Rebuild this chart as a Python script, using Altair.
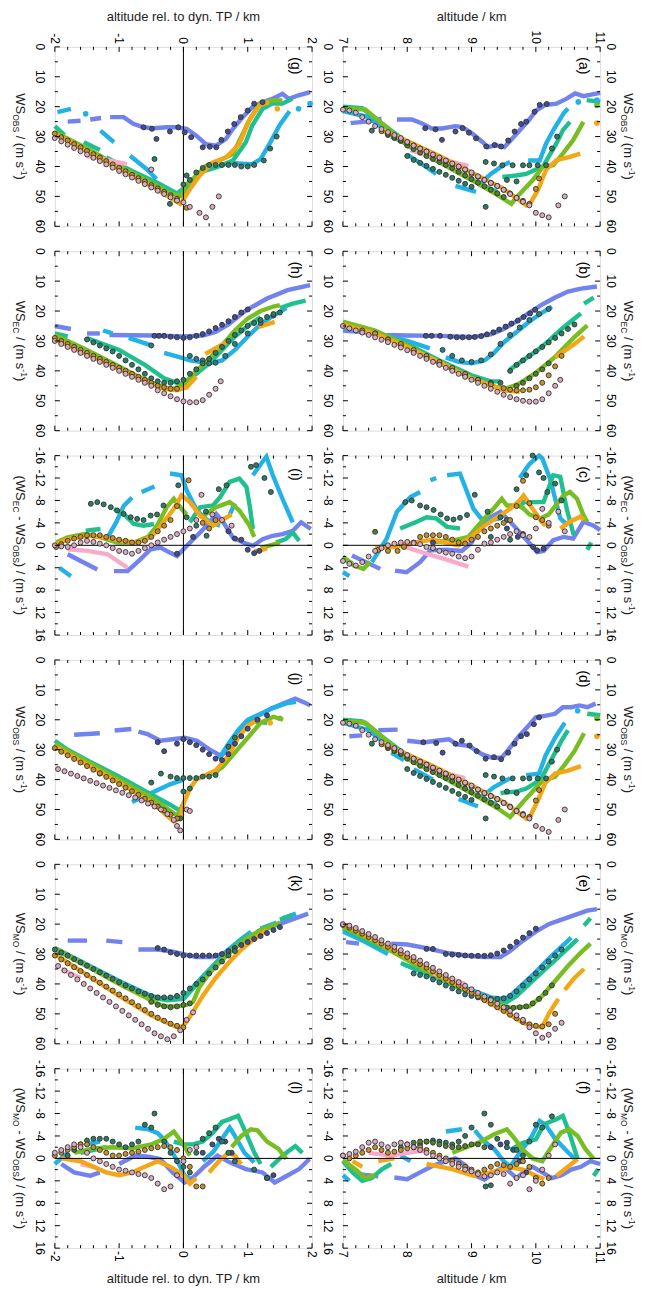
import altair as alt
import pandas as pd

W, H = 258, 180
FONT = "Liberation Sans"

COL = {"B": "#7282ef", "C": "#22b2e6", "T": "#1fbf8f", "G": "#78bd22", "O": "#f3a716", "P": "#f7aacb"}
DOT = {"B": "#3f4f8f", "C": "#2b7f8c", "T": "#2a7c63", "G": "#51802c", "O": "#c98f26", "P": "#dcaac2"}
LINE_ORDER = ["B", "C", "T", "G", "P", "O"]
DOT_ORDER = ["B", "C", "T", "G", "O", "P"]

# ---------------- panel (a): altitude, WS_OBS ----------------
A_LINES = {
    "B": [[(7.12, 25.5), (7.35, 25.0), (7.6, 24.0)],
          [(7.84, 24.3), (8.07, 24.3), (8.23, 25.6), (8.38, 27.3), (8.54, 27.3), (8.75, 26.5), (8.86, 26.8),
           (9.01, 29.0), (9.17, 31.8), (9.25, 33.5), (9.38, 32.9), (9.51, 33.5), (9.61, 31.2), (9.75, 27.9),
           (9.88, 24.8), (10.01, 21.2), (10.14, 19.5), (10.32, 19.0), (10.48, 17.3), (10.61, 15.6),
           (10.74, 16.5), (10.9, 15.8), (11.0, 15.4)]],
    "C": [[(7.0, 21.5), (7.4, 23.5), (7.6, 27.0)], [(7.75, 30.0), (7.9, 31.5)], [(8.0, 36.0), (8.25, 39.5), (8.45, 42.5)],
          [(8.75, 46.5), (9.07, 48.5)], [(9.1, 46.5), (9.3, 42.5), (9.5, 39.5), (9.6, 38.5)],
          [(9.88, 38.0), (10.06, 38.0), (10.16, 32.3), (10.27, 27.9), (10.43, 22.3), (10.5, 20.6)]],
    "T": [[(7.0, 20.0), (7.3, 20.5), (7.6, 25.5), (8.0, 32.0), (8.5, 38.5), (9.0, 44.5), (9.4, 48.5)],
          [(9.48, 43.5), (9.69, 43.0), (9.85, 42.5), (10.0, 41.0), (10.11, 40.0), (10.32, 32.3), (10.42, 27.9), (10.53, 25.1)],
          [(10.79, 17.8), (11.0, 18.4)]],
    "G": [[(7.0, 20.5), (7.35, 21.0), (7.55, 24.5), (8.0, 33.0), (8.5, 38.5), (9.0, 44.5), (9.4, 49.5), (9.62, 52.5),
           (9.67, 51.0), (9.8, 48.0), (9.95, 44.6), (10.11, 40.1), (10.27, 39.6), (10.42, 35.7), (10.58, 31.2), (10.74, 25.1)]],
    "P": [[(8.05, 34.5), (8.5, 37.5), (8.95, 39.8)]],
    "O": [[(7.6, 28.0), (8.0, 31.5), (8.5, 36.5), (9.0, 42.0), (9.5, 47.5), (9.85, 53.0), (9.92, 52.0), (10.03, 48.0),
           (10.16, 41.0), (10.32, 37.9), (10.53, 36.8), (10.69, 35.7)]],
}
A_BLOBS = [(10.66, 18.4, "C"), (10.95, 17.8, "C"), (10.95, 19.5, "G"), (10.95, 25.5, "O")]
A_DOTS = {
    "B": [(8.28, 27.2), (8.44, 27.6), (8.54, 31.1), (8.75, 28.3), (8.86, 27.2), (8.96, 28.7), (9.07, 30.6), (9.23, 33.3),
          (9.36, 32.8), (9.46, 33.3), (9.57, 31.3), (9.67, 28.3), (9.77, 25.8), (9.85, 25.0), (9.98, 21.7), (10.06, 19.4), (10.17, 19.1)],
    "T": [(7.45, 28.0), (8.0, 36.5), (8.1, 37.8), (8.2, 38.8), (8.3, 39.8), (8.4, 40.8), (8.5, 41.8), (8.6, 42.8), (8.7, 43.8),
          (8.8, 44.8), (8.9, 45.8), (9.0, 46.8), (9.22, 53.5), (9.22, 38.5), (9.35, 39.0), (9.48, 39.6), (9.55, 44.5), (9.64, 39.6),
          (9.7, 45.0), (9.8, 39.6), (9.9, 39.6), (10.03, 39.6), (10.16, 39.6), (10.25, 34.0), (10.33, 30.0)],
    "G": [(7.7, 29.5), (7.8, 30.5), (7.9, 31.5), (8.0, 33.0), (8.1, 34.2), (8.2, 35.4), (8.3, 36.5), (8.4, 37.5), (8.5, 38.5),
          (8.6, 39.5), (8.7, 40.5), (8.8, 41.8), (8.9, 43.0), (9.0, 44.2), (9.1, 45.4), (9.2, 46.6), (9.3, 47.8), (9.4, 49.0), (9.5, 50.2)],
    "O": [(7.6, 28.2), (7.7, 29.0), (7.8, 30.0), (7.9, 31.0), (8.0, 32.0), (8.1, 33.0), (8.2, 34.0), (8.3, 35.0), (8.4, 36.2),
          (8.5, 37.2), (8.6, 38.2), (8.7, 39.2), (8.8, 40.2), (8.9, 41.2), (9.0, 42.5), (9.1, 43.5), (9.2, 44.5), (9.3, 45.5),
          (9.4, 46.5), (9.5, 47.8), (9.6, 49.0), (9.7, 50.5), (9.8, 51.5), (9.9, 52.5), (10.0, 47.5), (10.05, 44.0)],
    "P": [(7.0, 21.0), (7.1, 21.3), (7.2, 22.0), (7.3, 23.5), (7.4, 25.0), (7.5, 26.5), (7.6, 27.5), (7.7, 28.5), (7.8, 29.5),
          (7.9, 30.5), (8.0, 31.8), (8.1, 33.0), (8.2, 34.0), (8.3, 35.0), (8.4, 36.0), (8.5, 37.0), (8.6, 38.0), (8.7, 39.0),
          (8.8, 40.0), (8.9, 41.0), (9.0, 42.0), (9.1, 43.3), (9.2, 44.5), (9.3, 45.5), (9.4, 46.5), (9.5, 47.8), (9.6, 49.2),
          (9.7, 50.5), (9.8, 51.8), (9.9, 53.0), (10.0, 55.5), (10.1, 56.3), (10.2, 57.0), (10.35, 53.0), (10.45, 50.0)],
}

# ---------------- panel (b): altitude, WS_EC ----------------
B_LINES = {
    "B": [[(7.0, 26.5), (7.3, 27.0), (7.6, 28.0), (8.0, 28.2), (8.5, 28.3), (9.0, 28.7), (9.3, 27.8), (9.5, 26.0), (9.7, 23.5),
           (9.9, 20.5), (10.1, 17.8), (10.3, 15.5), (10.5, 13.5), (10.7, 12.5), (10.95, 11.8)]],
    "C": [[(7.0, 25.0), (7.3, 26.5), (7.55, 27.5)], [(7.7, 28.5), (8.0, 30.0), (8.35, 32.5)],
          [(8.6, 35.5), (8.8, 37.0), (9.0, 37.5), (9.2, 36.5), (9.35, 34.0), (9.5, 30.5), (9.7, 27.0), (9.9, 23.5), (10.1, 20.5), (10.25, 18.5)]],
    "T": [[(7.0, 24.0), (7.5, 27.0), (8.0, 31.0), (8.5, 36.5), (9.0, 41.5), (9.3, 43.5), (9.45, 43.5)],
          [(9.6, 39.5), (9.8, 36.5), (10.0, 33.5), (10.2, 30.0), (10.4, 26.0), (10.6, 22.5), (10.7, 20.8)],
          [(10.75, 17.5), (10.9, 15.5)]],
    "G": [[(7.0, 23.5), (7.5, 26.5), (8.0, 31.5), (8.5, 37.5), (9.0, 42.5), (9.4, 45.5), (9.55, 45.8), (9.72, 44.5),
           (9.97, 41.1), (10.29, 35.5), (10.6, 28.7), (10.8, 24.8)]],
    "O": [[(7.0, 24.5), (7.5, 27.5), (8.0, 32.0), (8.5, 37.0), (9.0, 42.5), (9.5, 46.5), (9.75, 47.0)],
          [(10.3, 35.5), (10.6, 31.0), (10.75, 28.5)]],
}
B_BLOBS = []
B_DOTS = {
    "B": [(8.29, 28.3), (8.38, 28.3), (8.51, 28.3), (8.67, 28.6), (8.77, 28.8), (8.86, 28.8), (8.96, 28.8), (9.05, 28.7),
          (9.15, 28.4), (9.24, 27.8), (9.34, 27.1), (9.43, 26.2), (9.53, 25.2), (9.62, 24.2), (9.72, 23.2), (9.81, 22.0),
          (9.91, 20.8), (9.99, 19.6)],
    "C": [(8.55, 33.0), (8.7, 35.0), (8.85, 36.5), (9.0, 37.0), (9.15, 36.5), (9.3, 34.5), (9.45, 31.0), (9.6, 28.0),
          (9.75, 25.5), (9.9, 23.0), (10.05, 21.0), (10.2, 19.3)],
    "T": [(7.5, 27.5), (7.7, 29.5), (7.9, 31.5), (8.1, 33.5), (8.3, 35.5), (8.5, 37.5), (8.7, 39.5), (8.9, 41.5), (9.1, 43.0),
          (9.3, 44.0), (9.45, 44.0), (9.6, 40.0), (9.7, 38.0), (9.8, 36.5), (9.9, 35.0), (10.0, 33.5), (10.1, 32.0),
          (10.2, 30.5), (10.3, 29.0), (10.4, 27.5), (10.5, 26.0), (10.6, 24.5)],
    "G": [(9.7, 45.0), (9.8, 44.0), (9.9, 42.5), (10.0, 41.0), (10.1, 39.5), (10.2, 37.5)],
    "O": [(7.3, 26.5), (7.5, 27.5), (7.7, 29.5), (7.9, 31.0), (8.1, 33.0), (8.3, 35.0), (8.5, 37.0), (8.7, 39.0), (8.9, 41.0),
          (9.1, 43.0), (9.3, 44.5), (9.5, 45.8), (9.6, 46.3), (9.7, 46.5), (9.8, 46.5), (9.9, 46.3), (10.0, 45.5), (10.1, 44.0),
          (10.2, 41.5), (10.3, 38.5), (10.4, 35.0)],
    "P": [(7.0, 25.0), (7.1, 25.8), (7.2, 26.5), (7.3, 27.2), (7.4, 28.0), (7.5, 28.8), (7.6, 29.6), (7.7, 30.4), (7.8, 31.3),
          (7.9, 32.2), (8.0, 33.1), (8.1, 34.0), (8.2, 35.0), (8.3, 36.0), (8.4, 37.0), (8.5, 38.0), (8.6, 39.0), (8.7, 40.0),
          (8.8, 41.0), (8.9, 42.0), (9.0, 43.0), (9.1, 44.0), (9.2, 45.0), (9.3, 46.0), (9.4, 47.0), (9.5, 48.0), (9.6, 48.8),
          (9.7, 49.5), (9.8, 50.0), (9.9, 50.3), (10.0, 50.3), (10.1, 49.5), (10.2, 47.5), (10.3, 45.0), (10.38, 43.0)],
}

# ---------------- panel (c): altitude, WS_EC - WS_OBS ----------------
C_LINES = {
    "B": [[(7.14, 1.8), (7.58, 4.2)],
          [(7.81, 4.5), (7.99, 4.8), (8.2, 3.0), (8.36, 0.9), (8.6, 0.8), (8.85, 1.0), (9.0, -0.5), (9.13, -3.0), (9.3, -5.0),
           (9.45, -6.0), (9.65, -3.6), (9.86, -0.9), (10.02, 1.2), (10.12, 1.0), (10.27, -0.9), (10.43, -1.5), (10.58, -1.2),
           (10.74, -4.2), (10.9, -3.5), (11.0, -2.7)]],
    "C": [[(7.0, 4.8), (7.1, 5.5)], [(7.45, 3.0), (7.68, -1.2), (7.84, -6.0), (8.05, -8.6), (8.2, -9.5)], [(8.36, -11.6), (8.45, -12.0)],
          [(8.62, -12.5), (8.82, -12.8), (8.93, -9.5), (9.03, -6.5), (9.15, -4.8), (9.3, -4.5), (9.45, -4.8)],
          [(9.75, -12.0), (9.9, -14.5), (10.05, -16.0), (10.1, -15.5), (10.22, -11.9), (10.38, -4.8), (10.5, -3.5)]],
    "T": [[(7.0, 2.5), (7.15, 3.2)], [(7.89, -3.0), (8.15, -4.2), (8.3, -5.0), (8.45, -4.8), (8.62, -3.3), (8.82, -3.0)],
          [(9.75, -6.5), (9.81, -7.7), (9.96, -7.7), (10.12, -7.7), (10.27, -12.5), (10.38, -12.2), (10.48, -6.5), (10.59, -1.8)],
          [(10.8, 0.8), (10.86, -0.5)]],
    "G": [[(7.0, 2.0), (7.17, 3.6), (7.32, 4.2), (7.42, 3.0)],
          [(8.41, -0.6), (8.72, -0.9), (8.95, -1.5), (9.13, -3.9), (9.34, -6.5), (9.47, -8.3), (9.55, -7.1), (9.76, -7.1),
           (9.9, -5.5), (10.07, -4.8), (10.2, -5.5), (10.43, -8.9), (10.53, -9.5), (10.64, -8.3), (10.74, -5.4), (10.8, -4.2)]],
    "P": [[(7.9, 0.0), (8.05, 0.6), (8.3, 1.5), (8.6, 2.5), (8.95, 3.8)]],
    "O": [[(7.5, 0.5), (7.8, 0.3), (8.1, -0.5), (8.4, -1.0), (8.6, -0.5), (8.8, 0.0), (9.0, -1.5), (9.2, -3.5), (9.4, -5.0),
           (9.6, -6.5), (9.75, -8.0), (9.81, -8.9), (9.95, -6.5), (10.07, -4.5), (10.15, -3.5)],
          [(10.38, -3.0), (10.53, -4.2), (10.69, -5.1), (10.75, -4.5)]],
}
C_BLOBS = []
C_DOTS = {
    "B": [(8.4, -0.5), (9.55, -3.0), (9.72, -1.5), (9.8, -2.0), (9.96, 0.3), (10.02, 0.9), (10.12, 0.6)],
    "T": [(7.97, -7.7), (8.07, -8.0), (8.2, -7.1), (8.3, -6.8), (8.41, -6.3), (8.52, -5.5), (8.62, -4.8), (8.72, -4.6),
          (8.82, -4.9), (8.93, -5.4), (9.05, -9.0), (9.25, -6.0), (9.45, -5.0), (9.55, -4.5), (9.7, -10.0), (9.85, -12.5),
          (9.95, -16.0), (10.05, -13.0), (10.12, -12.0), (10.18, -9.5), (10.3, -11.0), (10.4, -8.0), (9.3, -1.5), (9.6, -1.0)],
    "G": [(7.5, -2.4)],
    "O": [(7.55, 0.8), (7.7, 1.0), (7.85, 1.0), (7.95, 0.3), (8.1, -0.5), (8.2, -1.5), (8.3, -1.8), (8.4, -1.8), (8.5, -1.8),
          (8.6, -1.5), (8.7, -1.0), (8.8, -0.5), (8.9, -0.3), (9.0, -1.0), (9.1, -1.5), (9.2, -2.5), (9.3, -3.0), (9.4, -3.5),
          (9.5, -4.0), (9.6, -4.5), (9.7, -7.0), (9.8, -11.5), (9.9, -7.5), (10.0, -5.0), (10.1, -4.5), (10.2, -3.5)],
    "P": [(7.0, 2.8), (7.1, 3.3), (7.2, 3.6), (7.3, 3.0), (7.4, 2.0), (7.5, 1.0), (7.6, 0.5), (7.7, 0.0), (7.8, -0.3),
          (7.9, -0.5), (8.0, -0.6), (8.1, -0.4), (8.2, -0.2), (8.3, 0.3), (8.4, 0.5), (8.5, 1.0), (8.6, 1.3), (8.7, 1.5),
          (8.8, 2.0), (8.9, 2.3), (9.0, 2.0), (9.1, 0.8), (9.2, -0.3), (9.3, -0.5), (9.4, -1.0), (9.5, -1.5), (9.6, -2.0),
          (9.7, -2.5), (9.8, -1.8), (9.9, -1.5), (10.0, -3.0), (10.1, -6.5), (10.2, -4.0), (10.35, -6.0), (10.45, -2.5)],
}

# ---------------- panel (d): altitude, WS_OBS ----------------
D_LINES = {
    "B": [[(7.1, 25.5), (7.3, 25.2)], [(7.55, 23.5), (7.85, 23.3)],
          [(8.0, 27.0), (8.25, 27.6), (8.45, 27.0), (8.65, 26.5), (8.77, 28.2), (8.96, 28.7), (9.16, 31.5), (9.32, 32.7),
           (9.47, 32.7), (9.6, 29.3), (9.72, 25.9), (9.89, 21.9), (10.0, 19.2), (10.16, 18.6), (10.3, 18.0), (10.42, 15.8),
           (10.55, 15.8), (10.68, 15.2), (10.8, 15.8), (10.93, 14.6)]],
    "C": [[(7.0, 21.0), (7.4, 23.5), (7.6, 27.0)], [(7.75, 31.0), (7.95, 33.5)], [(8.1, 36.5), (8.4, 40.0)],
          [(8.8, 46.5), (9.1, 49.0)], [(9.15, 46.0), (9.35, 42.5), (9.6, 39.5)],
          [(9.85, 38.5), (10.05, 38.0), (10.15, 32.0), (10.3, 26.0), (10.45, 21.0)]],
    "T": [[(7.0, 20.0), (7.3, 20.5), (7.6, 25.5), (8.0, 32.0), (8.5, 38.5), (9.0, 44.5), (9.4, 48.5)],
          [(9.45, 44.5), (9.7, 44.0), (9.85, 43.0), (10.0, 41.0), (10.1, 39.0), (10.25, 33.0), (10.4, 27.0), (10.5, 23.5)],
          [(10.8, 18.0), (11.0, 18.5)]],
    "G": [[(7.0, 20.5), (7.35, 21.0), (7.55, 24.5), (8.0, 33.0), (8.5, 38.5), (9.0, 44.5), (9.4, 49.5), (9.6, 52.5),
           (9.68, 50.5), (9.8, 47.5), (9.95, 44.0), (10.1, 40.5), (10.3, 39.0), (10.45, 35.0), (10.6, 30.5), (10.75, 24.5)]],
    "P": [[(8.3, 36.5), (8.9, 39.5)]],
    "O": [[(7.6, 28.0), (8.0, 31.5), (8.5, 36.5), (9.0, 42.0), (9.5, 47.5), (9.85, 53.0), (9.92, 52.0), (10.03, 47.0),
           (10.15, 41.0), (10.3, 38.0), (10.5, 37.0), (10.7, 35.5)]],
}
D_BLOBS = [(10.65, 17.0, "C"), (10.95, 19.5, "G"), (10.95, 25.5, "O")]
D_DOTS = {
    "B": [(8.25, 27.5), (8.45, 27.8), (8.55, 31.0), (8.75, 28.0), (8.85, 27.0), (8.97, 28.6), (9.08, 30.5), (9.22, 33.0),
          (9.35, 32.5), (9.46, 33.2), (9.57, 31.0), (9.67, 28.0), (9.77, 25.5), (9.86, 24.8), (9.97, 21.5), (10.05, 19.2)],
    "T": [(7.45, 28.0), (8.0, 36.5), (8.1, 37.8), (8.2, 38.8), (8.3, 39.8), (8.4, 40.8), (8.5, 41.8), (8.6, 42.8), (8.7, 43.8),
          (8.8, 44.8), (8.9, 45.8), (9.0, 46.8), (9.22, 53.0), (9.22, 38.5), (9.35, 39.0), (9.48, 39.6), (9.55, 44.0),
          (9.64, 39.6), (9.7, 44.5), (9.8, 39.6), (9.9, 39.6), (10.03, 39.6), (10.16, 39.6), (10.25, 34.0), (10.33, 30.0)],
    "G": [(7.7, 29.5), (7.8, 30.5), (7.9, 31.5), (8.0, 33.0), (8.1, 34.2), (8.2, 35.4), (8.3, 36.5), (8.4, 37.5), (8.5, 38.5),
          (8.6, 39.5), (8.7, 40.5), (8.8, 41.8), (8.9, 43.0), (9.0, 44.2), (9.1, 45.4), (9.2, 46.6), (9.3, 47.8), (9.4, 49.0)],
    "O": [(7.6, 28.2), (7.7, 29.0), (7.8, 30.0), (7.9, 31.0), (8.0, 32.0), (8.1, 33.0), (8.2, 34.0), (8.3, 35.0), (8.4, 36.2),
          (8.5, 37.2), (8.6, 38.2), (8.7, 39.2), (8.8, 40.2), (8.9, 41.2), (9.0, 42.5), (9.1, 43.5), (9.2, 44.5), (9.3, 45.5),
          (9.4, 46.5), (9.5, 47.8), (9.6, 49.0), (9.7, 50.5), (9.8, 51.5), (9.9, 52.5), (10.0, 47.0), (10.05, 43.5)],
    "P": [(7.0, 21.0), (7.1, 21.3), (7.2, 22.0), (7.3, 23.5), (7.4, 25.0), (7.5, 26.5), (7.6, 27.5), (7.7, 28.5), (7.8, 29.5),
          (7.9, 30.5), (8.0, 31.8), (8.1, 33.0), (8.2, 34.0), (8.3, 35.0), (8.4, 36.0), (8.5, 37.0), (8.6, 38.0), (8.7, 39.0),
          (8.8, 40.0), (8.9, 41.0), (9.0, 42.0), (9.1, 43.3), (9.2, 44.5), (9.3, 45.5), (9.4, 46.5), (9.5, 47.8), (9.6, 49.2),
          (9.7, 50.5), (9.8, 51.8), (9.9, 53.0), (10.0, 55.5), (10.1, 56.5), (10.2, 57.5), (10.35, 53.5), (10.45, 50.0)],
}

# ---------------- panel (e): altitude, WS_MO ----------------
E_LINES = {
    "B": [[(7.05, 26.0), (7.25, 26.5)],
          [(7.75, 26.5), (8.0, 26.8), (8.3, 28.0), (8.6, 29.5), (8.9, 30.5), (9.2, 31.0), (9.45, 31.0), (9.6, 29.0), (9.8, 25.5),
           (10.0, 22.5), (10.2, 20.0), (10.4, 18.5), (10.6, 17.0), (10.8, 15.5), (10.95, 15.0)]],
    "C": [[(7.0, 22.5), (7.35, 26.0), (7.7, 30.0)],
          [(7.95, 33.5), (8.5, 38.0), (9.0, 42.0), (9.3, 44.5), (9.5, 45.0), (9.6, 44.0), (9.8, 40.0), (10.0, 36.0), (10.2, 31.5),
           (10.4, 27.5), (10.55, 24.5)]],
    "T": [[(7.0, 21.5), (7.3, 24.5), (7.6, 28.0)],
          [(7.9, 33.0), (8.5, 38.5), (9.0, 43.0), (9.4, 45.5), (9.55, 46.0), (9.7, 44.0), (9.9, 40.0), (10.1, 36.0), (10.3, 32.0),
           (10.5, 28.0), (10.65, 25.0)],
          [(10.75, 20.5), (10.85, 18.0)]],
    "G": [[(7.0, 21.0), (7.5, 26.0), (8.0, 32.0), (8.5, 38.0), (9.0, 43.0), (9.4, 46.5), (9.6, 48.0), (9.9, 47.5), (10.1, 44.0),
           (10.3, 39.0), (10.5, 34.0), (10.7, 29.5), (10.85, 26.5)]],
    "P": [[(8.4, 36.5), (8.9, 40.0)]],
    "O": [[(7.0, 20.0), (7.5, 25.5), (8.0, 31.0), (8.5, 37.0), (9.0, 43.0), (9.5, 49.0), (9.8, 53.0), (9.95, 54.0), (10.1, 54.5),
           (10.2, 50.0), (10.35, 45.0)],
          [(10.45, 42.0), (10.6, 38.0), (10.75, 35.0)]],
}
E_BLOBS = []
E_DOTS = {
    "B": [(8.3, 28.3), (8.4, 28.3), (8.6, 30.0), (8.7, 30.2), (8.8, 30.3), (8.9, 30.5), (9.0, 30.6), (9.1, 30.6), (9.2, 30.6),
          (9.3, 30.4), (9.4, 29.8), (9.5, 28.8), (9.6, 27.5), (9.7, 26.0), (9.8, 24.5), (9.9, 23.0), (10.0, 21.5)],
    "C": [(8.1, 36.5), (8.2, 37.0), (8.3, 37.5), (8.4, 38.5), (8.5, 39.5), (8.6, 40.5), (8.7, 41.5), (8.8, 42.5), (8.9, 43.5),
          (9.0, 44.0), (9.1, 44.5), (9.2, 45.0), (9.3, 45.0), (9.4, 45.0), (9.5, 44.8), (9.6, 44.0), (9.7, 42.5), (9.8, 40.5),
          (9.9, 38.5), (10.0, 36.5), (10.1, 34.5), (10.2, 32.5), (10.3, 30.5), (10.4, 28.5)],
    "G": [(9.55, 48.0), (9.65, 48.0), (9.75, 47.8), (9.85, 47.5), (9.95, 46.5), (10.05, 45.0), (10.15, 43.0), (10.25, 40.5)],
    "O": [(7.0, 20.3), (7.1, 21.2), (7.2, 22.2), (7.3, 23.2), (7.4, 24.3), (7.5, 25.4), (7.6, 26.5), (7.7, 27.6), (7.8, 28.7),
          (7.9, 29.8), (8.0, 31.0), (8.1, 32.2), (8.2, 33.4), (8.3, 34.6), (8.4, 35.8), (8.5, 37.0), (8.6, 38.2), (8.7, 39.4),
          (8.8, 40.6), (8.9, 41.8), (9.0, 43.0), (9.1, 44.2), (9.2, 45.4), (9.3, 46.6), (9.4, 47.8), (9.5, 49.0), (9.6, 50.3),
          (9.7, 51.5), (9.8, 52.7), (9.9, 53.5), (10.0, 54.0), (10.1, 54.2), (10.2, 53.5), (10.3, 50.0)],
    "P": [(7.0, 20.0), (7.1, 20.5), (7.2, 21.3), (7.3, 22.3), (7.4, 23.3), (7.5, 24.3), (7.6, 25.4), (7.7, 26.5), (7.8, 27.6),
          (7.9, 28.7), (8.0, 29.8), (8.1, 31.0), (8.2, 32.2), (8.3, 33.4), (8.4, 34.6), (8.5, 35.8), (8.6, 37.0), (8.7, 38.2),
          (8.8, 39.4), (8.9, 40.6), (9.0, 41.8), (9.1, 43.0), (9.2, 44.2), (9.3, 45.4), (9.4, 46.6), (9.5, 47.8), (9.6, 49.0),
          (9.7, 50.5), (9.8, 52.0), (9.9, 54.5), (10.0, 56.5), (10.1, 58.0), (10.2, 57.0), (10.3, 55.0), (10.4, 53.0)],
}

# ---------------- panel (f): altitude, WS_MO - WS_OBS ----------------
F_LINES = {
    "B": [[(7.25, 2.8), (7.55, 3.2)],
          [(7.8, 3.4), (8.0, 3.7), (8.2, 2.5), (8.4, 1.3), (8.6, 0.5), (8.75, 0.0), (8.9, 1.2), (9.05, 3.0), (9.2, 3.8), (9.35, 2.5),
           (9.5, 1.5), (9.6, 2.5), (9.7, 3.5), (9.8, 2.5), (9.95, 1.5), (10.1, 2.5), (10.25, 3.5), (10.4, 3.0), (10.55, 2.0),
           (10.7, 1.5), (10.85, 0.5), (11.0, 1.0)]],
    "C": [[(7.0, 3.0), (7.1, 4.0)], [(7.9, -0.5), (8.05, 0.5)], [(8.6, -4.8), (8.85, -5.2)],
          [(9.05, -5.0), (9.2, -3.0), (9.35, -1.7), (9.5, 0.5), (9.6, 1.5), (9.75, -1.0), (9.94, -4.0), (10.06, -6.7), (10.15, -6.0),
           (10.3, -3.5), (10.5, -1.1), (10.6, 0.0)]],
    "T": [[(7.0, 0.5), (7.15, 2.5), (7.3, 4.0), (7.45, 3.5), (7.6, 2.0), (7.75, 1.0)],
          [(9.6, -1.5), (9.8, -2.8), (10.0, -3.4), (10.13, -6.1), (10.32, -7.0), (10.42, -7.6), (10.52, -4.6), (10.65, 0.1)],
          [(10.9, 3.1), (10.97, 1.9)]],
    "G": [[(7.0, 0.3), (7.2, 2.0), (7.35, 3.5), (7.5, 3.0)],
          [(8.7, -1.0), (8.97, -2.2), (9.15, -3.0), (9.35, -4.3), (9.55, -5.2), (9.68, -3.4), (9.8, -1.5), (9.95, 0.0), (10.1, 0.5),
           (10.19, -1.1), (10.39, -4.6), (10.52, -5.2), (10.65, -4.0), (10.77, -1.7), (10.9, 0.1)]],
    "P": [[(7.4, -1.0), (7.75, -0.5), (8.0, -1.0), (8.3, -1.5)]],
    "O": [[(7.15, 0.5), (7.3, 1.5)], [(7.55, 0.5), (7.8, 0.0)],
          [(8.3, 1.0), (8.7, 1.9), (9.03, 3.1), (9.3, 2.5), (9.61, 1.6), (9.8, 2.0), (10.0, 3.1), (10.13, 3.7)],
          [(10.32, 3.1), (10.52, 1.3), (10.65, 0.1)]],
}
F_BLOBS = []
F_DOTS = {
    "B": [(9.3, -2.0), (9.45, -2.5), (9.55, -2.8), (9.65, -1.5), (9.75, 0.5), (9.85, 2.5)],
    "T": [(8.1, -2.0), (8.2, -2.5), (8.3, -3.0), (8.4, -3.2), (8.5, -3.0), (8.6, -2.8), (8.7, -2.5), (8.8, -3.0), (8.9, -4.0),
          (9.0, -5.5), (9.2, -8.0), (9.3, -6.0), (9.4, -3.5), (9.55, -2.0), (9.7, -1.5), (9.8, -0.5), (9.9, -3.0), (10.0, -6.0),
          (10.1, -5.5), (10.25, -7.5), (9.22, 5.0), (9.3, 4.8)],
    "G": [(7.9, -2.0), (8.0, -2.5), (8.1, -2.8), (8.2, -3.0), (8.3, -3.0), (8.4, -2.8), (8.5, -2.5), (8.6, -2.2), (8.7, -2.0),
          (8.8, -2.0), (8.9, -2.2), (9.0, -2.5), (9.1, -2.5), (9.2, -2.0)],
    "O": [(7.0, -0.5), (7.1, 0.0), (7.2, -0.5), (7.3, -1.0), (7.4, -1.5), (7.5, -2.0), (7.6, -1.5), (7.7, -1.0), (7.8, -1.2),
          (7.9, -1.5), (8.0, -1.8), (8.1, -2.0), (8.2, -2.0), (8.3, -1.5), (8.4, -1.0), (8.5, -0.5), (8.6, 0.0), (8.7, 0.5),
          (8.8, 1.0), (8.9, 1.5), (9.0, 2.0), (9.1, 2.5), (9.2, 2.0), (9.3, 1.5), (9.4, 1.0), (9.5, 1.2), (9.6, 1.5), (9.7, 1.0),
          (9.8, 0.5), (9.9, 1.5), (10.0, 3.5), (10.1, 4.5), (10.2, 3.5)],
    "P": [(7.0, -0.5), (7.1, -0.8), (7.2, -1.2), (7.3, -2.0), (7.4, -2.8), (7.5, -3.0), (7.6, -2.5), (7.7, -2.0), (7.8, -2.5),
          (7.9, -2.8), (8.0, -2.5), (8.1, -2.0), (8.2, -1.5), (8.3, -1.0), (8.4, -0.5), (8.5, 0.0), (8.6, 0.5), (8.7, 1.0),
          (8.8, 1.5), (8.9, 2.0), (9.0, 2.3), (9.1, 2.8), (9.2, 3.2), (9.3, 3.0), (9.4, 2.5), (9.5, 2.8), (9.6, 4.5), (9.7, 3.5),
          (9.8, 3.0), (9.9, 5.5), (10.0, 4.0), (10.1, 2.0), (10.2, -0.5), (10.3, -2.5)],
}

# ---------------- panel (g): rel. TP, WS_OBS ----------------
G_LINES = {
    "B": [[(-1.8, 25.0), (-1.6, 24.7)], [(-1.45, 24.3), (-1.28, 23.8)],
          [(-1.14, 23.5), (-0.93, 23.5), (-0.78, 25.7), (-0.62, 26.9), (-0.47, 27.2), (-0.26, 26.9), (-0.11, 26.9), (0.05, 27.4),
           (0.2, 29.7), (0.35, 32.5), (0.51, 33.0), (0.66, 30.8), (0.77, 27.4), (0.92, 23.5), (1.07, 20.2), (1.23, 18.5),
           (1.38, 17.4), (1.54, 15.7), (1.64, 17.4), (1.79, 16.2), (1.97, 15.1)]],
    "C": [[(-1.96, 21.8), (-1.75, 20.7)], [(-1.29, 28.0), (-1.08, 31.9)], [(-0.83, 36.4), (-0.57, 40.9), (-0.42, 44.2)],
          [(-0.26, 47.6), (-0.06, 49.8), (0.05, 47.6), (0.15, 45.0)],
          [(0.7, 38.8), (1.07, 39.2), (1.2, 37.5), (1.35, 32.0), (1.5, 26.0), (1.65, 21.5)]],
    "T": [[(-2.0, 26.5), (-1.85, 29.5)], [(-1.55, 31.9), (-1.3, 34.5)],
          [(-1.2, 37.0), (-0.8, 41.5), (-0.4, 45.5), (-0.1, 49.0), (0.05, 46.5), (0.25, 42.0), (0.51, 40.3), (0.77, 38.0),
           (0.97, 31.9), (1.07, 26.3), (1.23, 20.7), (1.38, 19.0), (1.54, 19.0), (1.69, 17.4)]],
    "G": [[(-2.0, 28.5), (-1.5, 34.0), (-1.0, 40.0), (-0.5, 45.5), (-0.2, 49.0), (-0.02, 50.0), (0.02, 46.5), (0.15, 44.2),
           (0.35, 39.8), (0.56, 38.0), (0.77, 35.8), (0.87, 31.4), (1.02, 24.7), (1.18, 19.0), (1.38, 17.9), (1.54, 17.9)]],
    "P": [[(-1.5, 36.5), (-0.88, 39.2)]],
    "O": [[(-2.0, 29.0), (-1.5, 35.0), (-1.0, 41.0), (-0.5, 46.5), (-0.2, 50.5), (-0.05, 52.5), (0.0, 51.0), (0.1, 47.6),
           (0.25, 43.1), (0.46, 38.6), (0.66, 37.0), (0.87, 32.5), (1.02, 24.7), (1.18, 19.6), (1.33, 18.5)]],
}
G_BLOBS = [(-1.52, 22.4, "C"), (1.79, 20.7, "C"), (1.97, 19.0, "C"), (1.46, 20.7, "O")]
G_DOTS = {
    "B": [(-0.62, 26.9), (-0.49, 27.4), (-0.42, 30.8), (-0.21, 28.3), (-0.08, 26.9), (0.02, 28.6), (0.12, 30.2), (0.3, 33.6),
          (0.41, 33.4), (0.51, 33.6), (0.59, 31.1), (0.69, 28.3), (0.79, 25.8), (0.89, 23.5), (1.0, 21.3), (1.1, 19.0), (1.23, 18.5)],
    "T": [(-0.45, 37.5), (-0.21, 52.5), (0.0, 46.0), (0.05, 43.0), (0.1, 44.5), (0.2, 42.0), (0.3, 40.5), (0.4, 39.5),
          (0.5, 39.5), (0.6, 39.5), (0.7, 39.5), (0.8, 39.5), (0.9, 40.0), (1.0, 40.0), (1.1, 39.5), (1.25, 38.0), (1.35, 34.0), (1.45, 30.0)],
    "O": [(-2.0, 29.0), (-1.9, 30.2), (-1.8, 31.3), (-1.7, 32.5), (-1.6, 33.6), (-1.5, 34.8), (-1.4, 35.9), (-1.3, 37.0),
          (-1.2, 38.2), (-1.1, 39.3), (-1.0, 40.5), (-0.9, 41.6), (-0.8, 42.8), (-0.7, 43.9), (-0.6, 45.0), (-0.5, 46.2),
          (-0.4, 47.3), (-0.3, 48.5), (-0.2, 49.6), (-0.1, 50.8), (0.05, 53.8)],
    "P": [(-2.0, 30.5), (-1.9, 31.6), (-1.8, 32.7), (-1.7, 33.8), (-1.6, 34.9), (-1.5, 36.0), (-1.4, 37.1), (-1.3, 38.2),
          (-1.2, 39.3), (-1.1, 40.4), (-1.0, 41.5), (-0.9, 42.6), (-0.8, 43.7), (-0.7, 44.8), (-0.6, 45.9), (-0.5, 47.0),
          (-0.4, 48.1), (-0.3, 49.2), (-0.2, 50.3), (-0.1, 51.4), (0.0, 52.0), (0.1, 53.5), (0.25, 55.5), (0.35, 57.0),
          (0.45, 53.5), (0.55, 50.0), (-0.5, 41.0)],
}

# ---------------- panel (h): rel. TP, WS_EC ----------------
H_LINES = {
    "B": [[(-2.0, 25.0), (-1.75, 26.0)], [(-1.5, 27.5), (-1.3, 27.5)],
          [(-1.15, 28.0), (-0.5, 28.2), (0.0, 28.5), (0.3, 28.2), (0.5, 27.0), (0.7, 24.5), (0.98, 19.7), (1.3, 15.8),
           (1.62, 13.0), (1.97, 11.3)]],
    "C": [[(-1.25, 26.5), (-1.1, 27.5)], [(-0.85, 29.0), (-0.5, 31.5)],
          [(-0.3, 34.0), (-0.05, 35.5), (0.1, 36.5), (0.4, 37.5), (0.6, 36.5), (0.8, 33.0), (1.0, 28.5), (1.2, 24.5),
           (1.4, 21.5), (1.6, 19.0)]],
    "T": [[(-2.0, 27.5), (-1.8, 28.5)],
          [(-1.5, 29.0), (-1.0, 33.0), (-0.6, 38.0), (-0.3, 42.5), (-0.1, 44.0), (0.0, 44.5), (0.2, 41.0), (0.4, 37.5),
           (0.6, 33.0), (0.8, 28.5), (1.0, 25.0), (1.2, 22.0)],
          [(1.5, 19.0), (1.7, 17.5), (1.9, 16.5)]],
    "G": [[(-2.0, 28.0), (-1.5, 33.0), (-1.0, 38.5), (-0.6, 43.0), (-0.3, 45.5), (-0.15, 46.0), (0.0, 44.5), (0.2, 40.0),
           (0.4, 36.0), (0.6, 31.5), (0.8, 26.5), (1.0, 22.5), (1.2, 20.0), (1.4, 18.5), (1.5, 18.0)]],
    "O": [[(-2.0, 29.5), (-1.5, 34.5), (-1.0, 39.5), (-0.6, 43.5), (-0.3, 46.0), (-0.1, 46.5), (0.05, 45.5), (0.2, 42.0)],
          [(0.34, 34.3), (0.72, 29.8)], [(1.17, 25.3), (1.42, 23.6)]],
}
H_BLOBS = []
H_DOTS = {
    "B": [(-0.45, 28.3), (-0.38, 28.3), (-0.3, 28.3), (-0.2, 28.6), (-0.1, 28.8), (0.0, 29.0), (0.1, 28.8), (0.2, 28.3),
          (0.3, 27.7), (0.4, 26.8), (0.5, 25.7), (0.6, 24.6), (0.7, 23.4), (0.8, 22.0), (0.9, 20.5), (1.0, 19.5)],
    "C": [(-0.5, 31.5), (0.1, 35.0), (0.2, 36.0), (0.3, 36.5), (0.4, 37.5), (0.5, 37.3), (0.65, 35.0), (0.8, 31.0),
          (1.0, 27.5), (1.2, 24.0), (1.4, 21.5)],
    "T": [(-1.5, 29.5), (-1.4, 30.5), (-1.3, 31.5), (-1.2, 32.5), (-1.1, 33.5), (-1.0, 35.0), (-0.9, 36.5), (-0.8, 38.0),
          (-0.7, 39.5), (-0.6, 41.0), (-0.5, 42.5), (-0.4, 43.5), (-0.3, 44.0), (-0.2, 44.0), (-0.1, 43.5), (0.0, 43.0),
          (0.1, 41.0), (0.2, 39.5), (0.3, 37.5), (0.4, 36.0), (0.5, 34.0), (0.6, 32.0), (0.7, 30.0), (0.8, 28.0), (0.9, 26.5),
          (1.0, 25.0), (1.1, 24.0), (1.2, 23.0), (1.3, 22.0), (1.4, 21.0), (1.5, 20.5)],
    "O": [(-2.0, 29.0), (-1.9, 30.0), (-1.8, 31.0), (-1.7, 32.0), (-1.6, 33.0), (-1.5, 34.0), (-1.4, 35.0), (-1.3, 36.0),
          (-1.2, 37.0), (-1.1, 38.0), (-1.0, 39.0), (-0.9, 40.0), (-0.8, 41.0), (-0.7, 42.0), (-0.6, 43.0), (-0.5, 44.0),
          (-0.4, 45.0), (-0.3, 45.5), (-0.2, 46.0), (-0.1, 46.0)],
    "P": [(-2.0, 30.0), (-1.9, 31.0), (-1.8, 32.0), (-1.7, 33.0), (-1.6, 34.0), (-1.5, 35.0), (-1.4, 36.0), (-1.3, 37.0),
          (-1.2, 38.0), (-1.1, 39.0), (-1.0, 40.0), (-0.9, 41.0), (-0.8, 42.0), (-0.7, 43.0), (-0.6, 44.0), (-0.5, 45.0),
          (-0.4, 46.5), (-0.3, 47.5), (-0.2, 48.5), (-0.1, 49.5), (0.0, 50.2), (0.1, 50.5), (0.2, 50.5), (0.3, 49.8),
          (0.4, 48.0), (0.5, 46.0), (0.58, 43.5)],
}

# ---------------- panel (i): rel. TP, WS_EC - WS_OBS ----------------
I_LINES = {
    "B": [[(-1.8, 1.6), (-1.34, 4.3)],
          [(-1.08, 4.6), (-0.87, 4.6), (-0.67, 2.5), (-0.51, 0.7), (-0.36, 0.4), (-0.21, 1.3), (-0.1, 1.9), (0.05, 0.1),
           (0.21, -1.7), (0.36, -3.5), (0.51, -5.6), (0.62, -4.1), (0.77, -1.4), (0.93, -0.5), (1.08, 0.1), (1.23, -1.1),
           (1.39, -1.7), (1.54, -2.0), (1.7, -2.6), (1.83, -4.1), (1.98, -2.9)]],
    "C": [[(-1.93, 4.0), (-1.75, 5.5)], [(-1.2, -1.0), (-1.05, -4.0), (-0.93, -7.0), (-0.8, -8.5)], [(-0.65, -9.5), (-0.45, -10.5)],
          [(-0.21, -12.8), (-0.03, -12.5), (0.05, -9.8), (0.21, -6.2), (0.41, -4.1), (0.57, -3.5)], [(0.72, -5.5), (0.8, -7.5)],
          [(1.08, -12.5), (1.23, -14.9), (1.29, -15.8), (1.39, -12.5), (1.54, -8.3), (1.7, -4.1)]],
    "T": [[(-1.52, -2.6), (-1.29, -2.9)], [(-1.08, -6.5), (-0.93, -5.6), (-0.77, -3.8), (-0.62, -3.5), (-0.46, -3.8)],
          [(0.1, -4.1), (0.26, -6.8), (0.46, -7.1), (0.57, -8.6), (0.72, -11.3), (0.87, -11.9), (0.98, -10.4), (1.03, -7.1), (1.08, -2.9)],
          [(1.44, -0.5), (1.59, -1.1), (1.7, -2.3), (1.8, -0.8)]],
    "G": [[(-1.98, -0.5), (-1.8, -1.4), (-1.54, -2.0), (-1.29, -1.4), (-1.03, -0.5), (-0.77, -0.5), (-0.55, -1.5), (-0.41, -3.5),
           (-0.26, -6.8), (-0.15, -8.3), (-0.03, -6.5), (0.05, -5.5)],
          [(0.31, -5.3), (0.51, -6.8), (0.72, -7.7), (0.87, -6.2), (1.03, -3.5), (1.1, -1.5)], [(1.2, 0.5), (1.35, 0.0), (1.5, -0.5)]],
    "P": [[(-1.8, 0.7), (-1.49, 1.0), (-1.18, 1.6), (-0.87, 4.0)]],
    "O": [[(-1.98, -0.2), (-1.8, -1.1), (-1.49, -1.7), (-1.23, -1.4), (-0.98, -0.8), (-0.72, -0.5), (-0.5, -1.5), (-0.31, -4.1),
           (-0.15, -6.5), (-0.03, -8.9), (0.1, -7.7), (0.26, -5.3), (0.46, -3.5), (0.67, -5.0), (0.75, -5.5)],
          [(1.1, 1.0), (1.18, 1.0), (1.3, 0.5)]],
}
I_BLOBS = []
I_DOTS = {
    "B": [(0.7, -2.5), (0.8, -1.2), (0.9, -1.0), (1.0, 0.8), (1.1, 1.4), (1.18, 1.0), (-0.1, 1.5), (0.15, -1.5)],
    "T": [(-1.44, -7.4), (-1.34, -7.7), (-1.24, -7.3), (-1.13, -6.8), (-1.03, -6.2), (-0.93, -5.6), (-0.82, -5.0), (-0.72, -4.7),
          (-0.62, -4.5), (-0.51, -5.3), (-0.41, -5.5), (-0.31, -7.1), (-0.08, -10.7), (0.05, -5.0), (0.2, -3.5), (0.35, -6.0),
          (0.55, -10.0), (0.67, -10.7), (1.05, -14.0), (1.13, -14.3), (1.26, -12.0), (1.36, -9.5), (0.36, -1.7)],
    "O": [(-1.98, 0.3), (-1.9, -0.2), (-1.8, -0.8), (-1.7, -1.2), (-1.6, -1.5), (-1.5, -1.8), (-1.4, -1.8), (-1.3, -1.8),
          (-1.2, -1.5), (-1.1, -1.3), (-1.0, -1.0), (-0.9, -0.8), (-0.8, -0.5), (-0.7, -0.5), (-0.6, -0.8), (-0.5, -1.5),
          (-0.4, -2.5), (-0.3, -3.5), (-0.2, -4.5), (-0.1, -7.0), (0.08, -11.6), (0.3, -4.0), (0.4, -3.0), (0.5, -4.5)],
    "P": [(-2.0, 0.0), (-1.9, 0.2), (-1.8, 0.3), (-1.7, 0.0), (-1.6, -0.5), (-1.5, -0.8), (-1.4, -0.6), (-1.3, -0.3),
          (-1.2, 0.0), (-1.1, 0.5), (-1.0, 1.0), (-0.9, 1.2), (-0.8, 1.5), (-0.7, 1.0), (-0.6, 0.5), (-0.5, 0.0), (-0.4, -0.5),
          (-0.3, -1.0), (-0.2, -1.5), (-0.1, -2.0), (0.0, -2.5), (0.1, -3.0), (0.2, -4.5), (0.28, -9.0), (0.45, -5.5),
          (0.6, -4.5), (0.75, -3.5)],
}

# ---------------- panel (j): rel. TP, WS_OBS ----------------
J_LINES = {
    "B": [[(-1.7, 25.0), (-1.3, 24.5)], [(-1.07, 23.6), (-0.81, 23.1)],
          [(-0.7, 24.0), (-0.56, 24.8), (-0.36, 27.0), (-0.17, 26.5), (0.02, 26.0), (0.21, 27.0), (0.4, 29.9), (0.59, 32.1),
           (0.72, 28.7), (0.85, 24.2), (0.98, 20.8), (1.17, 18.6), (1.36, 16.3), (1.55, 14.6), (1.74, 12.9), (1.87, 14.1), (1.97, 15.2)]],
    "C": [[(-0.8, 47.5), (-0.5, 44.5), (-0.2, 41.5), (0.0, 40.0)],
          [(0.55, 33.0), (0.7, 28.0), (0.85, 23.5), (1.0, 20.0), (1.2, 18.0), (1.4, 16.0), (1.6, 14.5), (1.75, 14.0)]],
    "T": [[(-2.0, 27.0), (-1.8, 30.0), (-1.5, 33.5), (-1.0, 39.0), (-0.5, 45.0), (-0.2, 48.5), (-0.05, 50.5)],
          [(0.0, 44.0), (0.1, 44.5)], [(0.5, 38.0), (0.6, 35.0), (0.7, 32.0)], [(1.05, 20.5), (1.3, 21.0)]],
    "G": [[(-2.0, 28.0), (-1.5, 34.0), (-1.0, 40.0), (-0.5, 46.0), (-0.1, 52.0), (0.0, 48.0)],
          [(0.4, 38.5), (0.6, 36.0), (0.8, 31.0), (1.0, 26.0), (1.2, 21.0), (1.4, 19.0), (1.55, 20.0)]],
    "O": [[(-2.0, 29.0), (-1.5, 35.0), (-1.0, 41.0), (-0.5, 47.5), (-0.15, 54.0), (-0.05, 53.0), (0.0, 48.0), (0.1, 43.0),
           (0.2, 40.0), (0.35, 38.5), (0.5, 37.0), (0.7, 32.0), (0.85, 26.0), (1.0, 22.0), (1.2, 19.5)]],
}
J_BLOBS = [(1.35, 21.0, "O"), (1.5, 19.5, "G")]
J_DOTS = {
    "B": [(-0.4, 27.5), (-0.3, 30.5), (-0.1, 28.0), (0.0, 26.5), (0.1, 27.5), (0.2, 28.5), (0.3, 30.0), (0.4, 31.5), (0.5, 33.0),
          (0.6, 33.5), (0.7, 31.5), (0.8, 28.0), (0.9, 25.5), (1.0, 23.0), (1.15, 20.0), (1.3, 18.5)],
    "T": [(-0.35, 38.0), (-0.2, 39.0), (-0.1, 39.5), (0.0, 39.5), (0.1, 39.5), (0.2, 39.5), (0.3, 39.0), (0.4, 39.0),
          (0.5, 38.5), (0.0, 44.0), (0.1, 43.0), (-0.5, 41.0), (-1.3, 38.0), (-0.05, 53.0), (0.7, 29.0), (0.8, 26.0)],
    "O": [(-2.0, 29.5), (-1.9, 30.7), (-1.8, 31.9), (-1.7, 33.1), (-1.6, 34.3), (-1.5, 35.5), (-1.4, 36.7), (-1.3, 37.9),
          (-1.2, 39.1), (-1.1, 40.3), (-1.0, 41.5), (-0.9, 42.7), (-0.8, 43.9), (-0.7, 45.1), (-0.6, 46.4), (-0.5, 47.7),
          (-0.4, 49.0), (-0.3, 50.3), (-0.2, 51.7), (-0.1, 53.0)],
    "P": [(-1.95, 36.5), (-1.85, 37.2), (-1.75, 38.0), (-1.65, 38.8), (-1.55, 39.6), (-1.45, 40.4), (-1.35, 41.2),
          (-1.25, 42.0), (-1.15, 42.8), (-1.05, 43.6), (-0.95, 44.4), (-0.85, 45.2), (-0.75, 46.0), (-0.65, 47.0),
          (-0.55, 48.0), (-0.45, 49.0), (-0.35, 50.0), (-0.25, 51.5), (-0.15, 53.5), (-0.1, 55.5), (-0.05, 57.0),
          (0.05, 50.0), (0.1, 50.5)],
}

# ---------------- panel (k): rel. TP, WS_MO ----------------
K_LINES = {
    "B": [[(-1.8, 25.5), (-1.5, 25.5)], [(-1.2, 25.5), (-0.95, 26.0)],
          [(-0.7, 28.5), (-0.4, 28.5), (-0.2, 29.0), (0.0, 30.0), (0.2, 31.0), (0.45, 31.0), (0.6, 30.0), (0.72, 28.7),
           (0.98, 25.3), (1.3, 21.4), (1.62, 19.0), (1.94, 16.5)]],
    "C": [[(-2.0, 28.0), (-1.5, 33.5), (-1.0, 39.0), (-0.5, 44.0), (-0.3, 45.0), (0.0, 44.5), (0.15, 41.0), (0.3, 37.5),
           (0.5, 33.0), (0.7, 28.5), (0.9, 25.0), (1.05, 22.5)], [(1.2, 21.5), (1.45, 19.5)], [(1.55, 18.0), (1.75, 16.5)]],
    "T": [[(-2.0, 28.5), (-1.5, 34.0), (-1.0, 39.5), (-0.5, 44.5), (-0.25, 45.5), (0.0, 45.0), (0.15, 41.5), (0.3, 38.0),
           (0.5, 33.5), (0.7, 29.0), (0.9, 25.5), (1.0, 24.0)], [(1.15, 22.5), (1.35, 20.5)], [(1.5, 18.5), (1.7, 17.0)]],
    "G": [[(-2.0, 28.0), (-1.5, 34.0), (-1.0, 40.0), (-0.5, 45.5), (-0.3, 47.5), (-0.1, 47.5), (0.05, 47.0), (0.15, 46.0),
           (0.25, 41.0), (0.4, 36.5), (0.6, 32.0), (0.8, 28.0), (1.0, 24.5), (1.2, 22.0), (1.4, 20.5), (1.5, 19.5)]],
    "P": [[(-1.9, 35.0), (-1.6, 38.0)]],
    "O": [[(-2.0, 30.0), (-1.5, 37.0), (-1.0, 44.0), (-0.5, 50.5), (-0.1, 54.5), (0.0, 54.0), (0.1, 51.0), (0.3, 44.0),
           (0.5, 38.0), (0.7, 33.0), (0.9, 28.5), (1.1, 25.0), (1.3, 22.0)]],
}
K_BLOBS = []
K_DOTS = {
    "B": [(-0.4, 28.0), (-0.3, 28.5), (-0.2, 29.5), (-0.1, 30.0), (0.0, 30.5), (0.1, 30.5), (0.2, 30.5), (0.3, 30.5),
          (0.4, 30.5), (0.5, 30.5), (0.6, 30.0), (0.7, 29.0), (0.8, 28.0), (0.9, 27.0), (1.0, 26.0), (1.1, 25.0), (1.2, 24.0),
          (1.3, 23.0), (1.4, 22.0), (1.5, 21.0)],
    "T": [(-2.0, 28.5), (-1.9, 29.5), (-1.8, 30.5), (-1.7, 31.7), (-1.6, 32.8), (-1.5, 33.9), (-1.4, 35.0), (-1.3, 36.1),
          (-1.2, 37.2), (-1.1, 38.3), (-1.0, 39.4), (-0.9, 40.5), (-0.8, 41.5), (-0.7, 42.5), (-0.6, 43.3), (-0.5, 44.0),
          (-0.4, 44.5), (-0.3, 44.5), (-0.2, 44.5), (-0.1, 44.0), (0.0, 43.0), (0.1, 41.5), (0.2, 40.0), (0.3, 38.5),
          (0.4, 36.5), (0.5, 34.5), (0.6, 32.5), (0.7, 30.5), (0.8, 29.0)],
    "G": [(-0.5, 46.0), (-0.4, 47.0), (-0.3, 47.5), (-0.2, 47.8), (-0.1, 47.5), (0.0, 47.0), (0.1, 46.5)],
    "O": [(-2.0, 30.5), (-1.9, 31.8), (-1.8, 33.1), (-1.7, 34.4), (-1.6, 35.7), (-1.5, 37.0), (-1.4, 38.3), (-1.3, 39.6),
          (-1.2, 40.9), (-1.1, 42.2), (-1.0, 43.5), (-0.9, 44.8), (-0.8, 46.1), (-0.7, 47.4), (-0.6, 48.7), (-0.5, 50.0),
          (-0.4, 51.3), (-0.3, 52.3), (-0.2, 53.3), (-0.1, 54.0), (0.0, 54.5)],
    "P": [(-1.95, 34.0), (-1.85, 35.5), (-1.75, 37.0), (-1.65, 38.5), (-1.55, 40.0), (-1.45, 41.5), (-1.35, 43.0),
          (-1.25, 44.5), (-1.15, 46.0), (-1.05, 47.5), (-0.95, 49.0), (-0.85, 50.5), (-0.75, 52.0), (-0.65, 53.5),
          (-0.55, 55.0), (-0.45, 56.5), (-0.35, 57.5), (-0.25, 58.5), (-0.15, 57.5), (-0.05, 55.5), (0.05, 52.0), (0.15, 49.5)],
}

# ---------------- panel (l): rel. TP, WS_MO - WS_OBS ----------------
L_LINES = {
    "B": [[(-1.9, 1.0), (-1.7, 2.5), (-1.45, 3.1), (-1.3, 2.5)],
          [(-1.0, 1.0), (-0.75, -0.5), (-0.55, -0.3), (-0.36, 0.1), (-0.17, 2.5), (0.02, 4.3), (0.15, 3.4), (0.34, 1.3),
           (0.53, -0.5), (0.72, 0.7), (0.97, 1.9), (1.23, 2.5), (1.42, 4.3), (1.61, 3.1), (1.8, 1.9), (1.96, 0.1)]],
    "C": [[(-2.0, 1.0), (-1.8, -1.0)], [(-1.5, -2.5), (-1.3, -3.0)],
          [(-0.75, -5.5), (-0.55, -5.2), (-0.4, -4.5), (-0.3, -3.4), (-0.11, 0.1), (0.02, 3.1), (0.1, 3.5)],
          [(0.3, 0.5), (0.46, -1.1), (0.6, -3.5), (0.72, -5.5), (0.8, -4.0), (0.95, -1.0), (1.1, 0.7)]],
    "T": [[(-1.6, -1.0), (-1.4, -1.5), (-1.2, -2.0)],
          [(-0.15, -3.0), (0.0, -2.5), (0.15, -2.5), (0.3, -3.0), (0.45, -4.5), (0.6, -6.5), (0.72, -7.0), (0.85, -7.6),
           (0.97, -4.6), (1.1, -1.1), (1.2, 1.0)],
          [(1.36, 1.5), (1.5, 0.0), (1.61, -1.1), (1.74, -2.2), (1.85, -1.0)]],
    "G": [[(-1.7, -1.0), (-1.4, -1.8), (-1.1, -2.0), (-0.8, -1.8), (-0.5, -2.5), (-0.3, -3.5), (-0.15, -4.8), (0.0, -2.5), (0.1, -0.5)],
          [(0.75, -2.0), (0.9, -4.0), (1.05, -5.2), (1.15, -5.0), (1.3, -3.0), (1.48, -1.7), (1.6, 0.1)]],
    "P": [[(-1.6, 1.0), (-1.4, 1.5), (-1.2, 2.5)]],
    "O": [[(-1.9, 0.0), (-1.6, 0.5), (-1.4, 1.5), (-1.2, 2.5), (-1.0, 3.0), (-0.8, 2.5), (-0.6, 1.5), (-0.4, 0.5), (-0.2, 1.5),
           (0.0, 3.0), (0.1, 4.5), (0.2, 3.5)],
          [(0.4, 2.5), (0.55, 0.5), (0.7, -1.0), (0.8, -0.5), (0.9, 1.0)]],
}
L_BLOBS = []
L_DOTS = {
    "B": [(0.3, -1.0), (0.45, -2.5), (0.55, -3.5), (0.65, -3.0), (0.75, -1.0), (1.3, 3.5), (1.4, 3.0)],
    "T": [(-1.8, -0.5), (-1.7, -1.5), (-1.6, -2.5), (-1.5, -3.2), (-1.4, -3.5), (-1.3, -3.5), (-1.2, -3.5), (-1.1, -3.0),
          (-1.0, -2.5), (-0.9, -2.0), (-0.8, -2.5), (-0.7, -3.0), (-0.6, -6.0), (-0.5, -5.5), (-0.45, -8.0), (-0.3, -3.0),
          (-0.2, -1.0), (-0.1, 0.5), (0.0, 1.5), (0.1, 2.5), (0.2, -1.0), (0.3, -3.5), (0.4, -4.5), (0.5, -5.5), (0.6, -3.0),
          (0.7, -1.0), (0.8, 0.5), (1.1, 2.0), (1.3, 3.5)],
    "O": [(-2.0, -0.5), (-1.9, -1.0), (-1.8, -1.5), (-1.7, -2.0), (-1.6, -2.5), (-1.5, -2.5), (-1.4, -2.0), (-1.3, -1.5),
          (-1.2, -1.0), (-1.1, -0.5), (-1.0, -0.5), (-0.9, -0.8), (-0.8, -1.0), (-0.7, -1.2), (-0.6, -1.5), (-0.5, -1.8),
          (-0.4, -2.0), (-0.3, -2.2), (-0.2, -2.0), (-0.1, -1.5), (0.0, 0.0), (0.1, 1.5), (0.2, 5.0), (0.3, 5.0)],
    "P": [(-2.0, -1.0), (-1.9, -1.5), (-1.8, -2.0), (-1.7, -2.5), (-1.6, -2.0), (-1.5, -1.0), (-1.4, 0.0), (-1.3, 0.5),
          (-1.2, 1.0), (-1.1, 1.5), (-1.0, 2.0), (-0.9, 2.2), (-0.8, 2.5), (-0.7, 2.8), (-0.6, 3.0), (-0.5, 3.5), (-0.4, 4.5),
          (-0.3, 5.5), (-0.2, 5.0), (-0.1, 3.0), (0.0, 0.5), (0.1, -1.5), (0.2, -2.0)],
}

# ---------------- axis tick labels and titles ----------------
ALT_TICKS = [7, 8, 9, 10, 11]
REL_TICKS = [-2, -1, 0, 1, 2]
WS_TICKS = [0, 10, 20, 30, 40, 50, 60]
DIFF_TICKS = [-16, -12, -8, -4, 0, 4, 8, 12, 16]
T_OBS = [("WS", 0), ("OBS", -1), (" / (m s", 0), ("-1", 1), (")", 0)]
T_EC = [("WS", 0), ("EC", -1), (" / (m s", 0), ("-1", 1), (")", 0)]
T_MO = [("WS", 0), ("MO", -1), (" / (m s", 0), ("-1", 1), (")", 0)]
T_DEC = [("(WS", 0), ("EC", -1), (" - WS", 0), ("OBS", -1), (") / (m s", 0), ("-1", 1), (")", 0)]
T_DMO = [("(WS", 0), ("MO", -1), (" - WS", 0), ("OBS", -1), (") / (m s", 0), ("-1", 1), (")", 0)]

PANELS = {
    "a": (A_LINES, A_DOTS, A_BLOBS, "alt", "ws", T_OBS),
    "b": (B_LINES, B_DOTS, B_BLOBS, "alt", "ws", T_EC),
    "c": (C_LINES, C_DOTS, C_BLOBS, "alt", "diff", T_DEC),
    "d": (D_LINES, D_DOTS, D_BLOBS, "alt", "ws", T_OBS),
    "e": (E_LINES, E_DOTS, E_BLOBS, "alt", "ws", T_MO),
    "f": (F_LINES, F_DOTS, F_BLOBS, "alt", "diff", T_DMO),
    "g": (G_LINES, G_DOTS, G_BLOBS, "rel", "ws", T_OBS),
    "h": (H_LINES, H_DOTS, H_BLOBS, "rel", "ws", T_EC),
    "i": (I_LINES, I_DOTS, I_BLOBS, "rel", "diff", T_DEC),
    "j": (J_LINES, J_DOTS, J_BLOBS, "rel", "ws", T_OBS),
    "k": (K_LINES, K_DOTS, K_BLOBS, "rel", "ws", T_MO),
    "l": (L_LINES, L_DOTS, L_BLOBS, "rel", "diff", T_DMO),
}

CW = {"W": .944, "S": .667, "O": .778, "B": .667, "E": .667, "C": .722, "M": .833, " ": .278, "/": .278,
      "(": .333, ")": .333, "m": .833, "s": .5, "-": .333, "1": .556}


def tw(s, size):
    return sum(CW.get(ch, .556) for ch in s) * size


ONE = pd.DataFrame({"a": [0]})


def fmt(v):
    return str(int(v)) if float(v).is_integer() else str(v)


def make_panel(key, col, row):
    lines, dots, blobs, xkind, ykind, title = PANELS[key]
    xdom = [7, 11] if xkind == "alt" else [-2, 2]
    ydom = [0, 60] if ykind == "ws" else [-16, 16]
    xs = alt.Scale(domain=xdom, nice=False, zero=False)
    ys = alt.Scale(domain=ydom, nice=False, zero=False, reverse=True)

    def X(f):
        return alt.X(f, type="quantitative", scale=xs, axis=None)

    def Y(f):
        return alt.Y(f, type="quantitative", scale=ys, axis=None)

    layers = []
    for c in LINE_ORDER:
        rows = []
        for i, seg in enumerate(lines.get(c, [])):
            for j, (xv, yv) in enumerate(seg):
                rows.append({"x": xv, "y": yv, "seg": f"{c}{i}", "o": j})
        if rows:
            layers.append(alt.Chart(pd.DataFrame(rows)).mark_line(strokeWidth=4.4, color=COL[c]).encode(
                x=X("x"), y=Y("y"), detail="seg:N", order="o:Q"))
    if blobs:
        bd = pd.DataFrame([{"x": b[0], "y": b[1], "c": COL[b[2]]} for b in blobs])
        layers.append(alt.Chart(bd).mark_circle(size=32, opacity=1).encode(
            x=X("x"), y=Y("y"), color=alt.Color("c:N", scale=None)))
    if xkind == "rel":
        layers.append(alt.Chart(pd.DataFrame({"z": [0]})).mark_rule(color="black", strokeWidth=1).encode(x=X("z")))
    if ykind == "diff":
        layers.append(alt.Chart(pd.DataFrame({"z": [0]})).mark_rule(color="black", strokeWidth=1).encode(y=Y("z")))
    drows = []
    for c in DOT_ORDER:
        for (xv, yv) in dots.get(c, []):
            drows.append({"x": xv, "y": yv, "f": DOT[c]})
    if drows:
        layers.append(alt.Chart(pd.DataFrame(drows)).mark_point(
            filled=True, size=25, opacity=1, stroke="#303030", strokeWidth=0.9, shape="circle").encode(
            x=X("x"), y=Y("y"), fill=alt.Fill("f:N", scale=None)))

    if xkind == "alt":
        xmaj = ALT_TICKS
        xmin = [round(7 + 0.2 * i, 1) for i in range(21) if i % 5]
    else:
        xmaj = REL_TICKS
        xmin = [round(-2 + 0.2 * i, 1) for i in range(21) if i % 5]
    if ykind == "ws":
        ymaj = WS_TICKS
        ymin = [5, 15, 25, 35, 45, 55]
    else:
        ymaj = DIFF_TICKS
        ymin = [-14, -10, -6, -2, 2, 6, 10, 14]
    for vals, L in ((xmaj, 5), (xmin, 3)):
        d = pd.DataFrame({"t": vals})
        layers.append(alt.Chart(d).mark_rule(color="black", strokeWidth=1).encode(x=X("t"), y=alt.value(0), y2=alt.value(L)))
        layers.append(alt.Chart(d).mark_rule(color="black", strokeWidth=1).encode(x=X("t"), y=alt.value(H), y2=alt.value(H - L)))
    for vals, L in ((ymaj, 5), (ymin, 3)):
        d = pd.DataFrame({"t": vals})
        layers.append(alt.Chart(d).mark_rule(color="black", strokeWidth=1).encode(y=Y("t"), x=alt.value(0), x2=alt.value(L)))
        layers.append(alt.Chart(d).mark_rule(color="black", strokeWidth=1).encode(y=Y("t"), x=alt.value(W), x2=alt.value(W - L)))

    yl = pd.DataFrame({"t": ymaj, "s": [fmt(v) for v in ymaj]})
    layers.append(alt.Chart(yl).mark_text(angle=90, fontSize=12, font=FONT, align="center", baseline="middle",
                                          color="black").encode(y=Y("t"), x=alt.value(-15), text="s:N"))
    if col == 1:
        layers.append(alt.Chart(yl).mark_text(angle=90, fontSize=12, font=FONT, align="center", baseline="middle",
                                              color="black").encode(y=Y("t"), x=alt.value(W + 11), text="s:N"))
    xl = pd.DataFrame({"t": xmaj, "s": [fmt(v) for v in xmaj]})
    xtitle = "altitude / km" if xkind == "alt" else "altitude rel. to dyn. TP / km"
    if row == 0:
        layers.append(alt.Chart(xl).mark_text(angle=90, fontSize=12, font=FONT, align="right", baseline="middle",
                                              color="black").encode(x=X("t"), y=alt.value(-3), text="s:N"))
        layers.append(alt.Chart(ONE).mark_text(text=xtitle, fontSize=13, font=FONT, align="center", baseline="middle",
                                               color="#222").encode(x=alt.value(W / 2), y=alt.value(-30)))
    if row == 5:
        layers.append(alt.Chart(xl).mark_text(angle=90, fontSize=12, font=FONT, align="left", baseline="middle",
                                              color="black").encode(x=X("t"), y=alt.value(H + 3), text="s:N"))
        layers.append(alt.Chart(ONE).mark_text(text=xtitle, fontSize=13, font=FONT, align="center", baseline="middle",
                                               color="#222").encode(x=alt.value(W / 2), y=alt.value(H + 31)))

    f, s = 13, 8.5
    total = sum(tw(t, f if k == 0 else s) for t, k in title)
    pos = H / 2 - total / 2
    xc = -34 if col == 0 else W + 29
    xb = xc - 0.36 * f
    for t, k in title:
        size = f if k == 0 else s
        lead = len(t) - len(t.lstrip())
        p = pos + tw(t[:lead], size)
        shift = 0 if k == 0 else (-3 if k < 0 else 4.5)
        layers.append(alt.Chart(ONE).mark_text(text=t.strip(), angle=90, fontSize=size, font=FONT, align="left",
                                               baseline="alphabetic", color="#222").encode(
            x=alt.value(xb + shift), y=alt.value(p)))
        pos += tw(t, size)

    layers.append(alt.Chart(ONE).mark_text(text=f"({key})", angle=90, fontSize=14, font=FONT, align="center",
                                           baseline="middle", color="black").encode(x=alt.value(W - 17), y=alt.value(19)))
    if col == 0 and row == 0:
        layers.append(alt.Chart(ONE).mark_rule(opacity=0, strokeOpacity=0).encode(
            x=alt.value(-54), x2=alt.value(-54), y=alt.value(-44), y2=alt.value(-43)))
    if col == 1 and row == 5:
        layers.append(alt.Chart(ONE).mark_rule(opacity=0, strokeOpacity=0).encode(
            x=alt.value(W + 44), x2=alt.value(W + 44), y=alt.value(H + 39), y2=alt.value(H + 40)))

    return alt.layer(*layers).properties(width=W, height=H)


cells = []
for r in range(6):
    cells.append(make_panel("ghijkl"[r], 0, r))
    cells.append(make_panel("abcdef"[r], 1, r))

chart = alt.concat(*cells, columns=2, spacing={"row": 25, "column": 31}, bounds="flush").properties(
    padding=0, background="white"
).configure_view(stroke="black", strokeWidth=1).configure(font=FONT)

chart.save("out.html", embed_options={"renderer": "svg", "actions": False})
